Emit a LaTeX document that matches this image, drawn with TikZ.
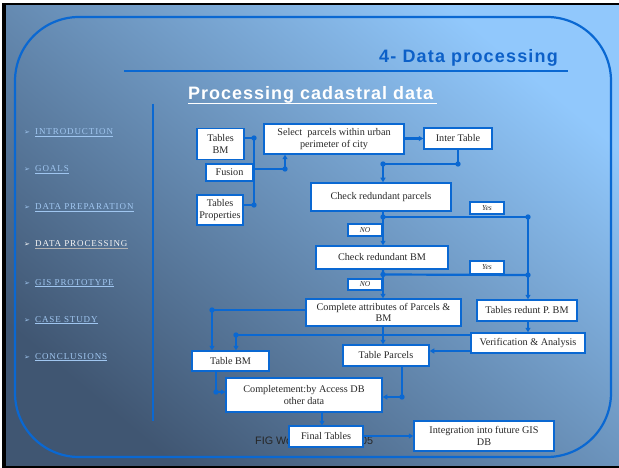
\documentclass[tikz,border=0pt]{standalone}
\usepackage{fontspec}
\setmainfont{Liberation Serif}
\newfontfamily\titlefont[LetterSpace=6.5]{Liberation Sans}
\newfontfamily\subfont[LetterSpace=5.5]{Liberation Sans}
\newfontfamily\menufont[LetterSpace=10]{Liberation Serif}
\newfontfamily\symfont{DejaVu Sans}
\newfontfamily\figfont{Liberation Sans}
\usetikzlibrary{arrows.meta,calc}
\definecolor{lb}{RGB}{10,104,210}
\definecolor{bgLight}{RGB}{145,200,252}
\definecolor{bgMid}{RGB}{106,150,200}
\definecolor{bgDark}{RGB}{64,86,114}
\definecolor{menublue}{RGB}{160,198,240}
\definecolor{titleblue}{RGB}{12,96,200}
\definecolor{boxtext}{RGB}{40,40,40}
\tikzset{
 box/.style={draw=lb, fill=white, line width=1.5pt, inner sep=0pt, align=center,
   font=\fontsize{10.2}{11.7}\selectfont, text=boxtext},
 lab/.style={draw=lb, fill=white, line width=1.1pt, inner sep=0pt,
   font=\itshape\fontsize{7.5}{8}\selectfont, text=boxtext},
 conn/.style={draw=lb, line width=2.2pt},
 arr/.style={conn, -{Triangle[length=4.5pt,width=5pt]}},
 menuitem/.style={anchor=base west, inner sep=0pt, text=menublue, font=\menufont\fontsize{9}{10}\selectfont},
 bullet/.style={anchor=base west, inner sep=0pt, text=menublue, font=\symfont\fontsize{7}{8}\selectfont},
}
\begin{document}
\begin{tikzpicture}[x=1pt,y=-1pt]
\useasboundingbox (0,0) rectangle (619,468);
\fill[white] (0,0) rectangle (619,468);
\fill[black] (2,3) rectangle (619,468);
\shade[top color=bgLight, middle color=bgMid, bottom color=bgDark, shading angle=-40] (6,6) rectangle (619,465);
% frame
\draw[lb, line width=2.2pt, rounded corners=64pt] (15,17) rectangle (611,457);
% titles
\node[anchor=base east, inner sep=0pt, text=titleblue, font=\titlefont\bfseries\fontsize{18}{20}\selectfont] (title) at (558,63) {4- Data processing};
\draw[lb, line width=1.6pt] (124,71) -- (568,71);
\node[anchor=base west, inner sep=0pt, text=white, font=\subfont\bfseries\fontsize{18}{20}\selectfont] (sub) at (188,100) {Processing cadastral data};
\draw[white, line width=1.4pt] (188,103.5) -- (437,103.5);
% sidebar
\draw[lb, line width=2pt] (153,104) -- (153,421);
\foreach \yy/\txt/\nm in {135/INTRODUCTION/m1, 172/GOALS/m2, 210/DATA PREPARATION/m3, 285/GIS PROTOTYPE/m5, 322/CASE STUDY/m6, 359/CONCLUSIONS/m7}{
  \node[bullet] (b\nm) at (24,\yy) {➢};
  \node[menuitem] (\nm) at (35,\yy) {\txt};
  \draw[menublue, line width=0.6pt] ([yshift=-1.6pt]\nm.base west) -- ([yshift=-1.6pt]\nm.base east);
}
\node[bullet, text=white] (bm4) at (24,247) {➢};
\node[menuitem, text=white!92!gray] (m4) at (35,247) {DATA PROCESSING};
\draw[gray!60, line width=0.8pt] ([yshift=-1.8pt]m4.base west) -- ([yshift=-1.8pt]m4.base east);
% footer text (partly hidden)
\node[anchor=base west, inner sep=0pt, text=black!85, font=\figfont\fontsize{10.8}{12}\selectfont] (fig) at (255,444) {FIG Working Week 2005};
% boxes
\node[box, minimum width=47, minimum height=31] (tbm) at (220.5,144) {Tables\\BM};
\node[box, minimum width=47, minimum height=17] (fus) at (229.5,172.5) {Fusion};
\node[box, minimum width=46, minimum height=30] (tpr) at (220,210) {Tables\\Properties};
\node[box, minimum width=140, minimum height=30] (sel) at (334,139) {Select\ \ parcels within urban\\perimeter of city};
\node[box, minimum width=68, minimum height=21] (inter) at (458,138.5) {Inter Table};
\node[box, minimum width=140, minimum height=28] (crp) at (381,197) {Check redundant parcels};
\node[lab, minimum width=34, minimum height=12] (yes1) at (487,208) {Yes};
\node[lab, minimum width=34, minimum height=12] (no1) at (365,230) {NO};
\node[box, minimum width=132, minimum height=23] (cbm) at (382,257.5) {Check redundant BM};
\node[lab, minimum width=34, minimum height=13] (yes2) at (487,267.5) {Yes};
\node[lab, minimum width=34, minimum height=11] (no2) at (365,284.5) {NO};
\node[box, minimum width=155, minimum height=27] (cap) at (383.5,312.5) {Complete attributes of Parcels \&\\BM};
\node[box, minimum width=100, minimum height=21] (trp) at (527,310.5) {Tables redunt P. BM};
\node[box, minimum width=114, minimum height=20] (ver) at (528,343) {Verification \& Analysis};
\node[box, minimum width=77, minimum height=20] (tbm2) at (230.5,361) {Table BM};
\node[box, minimum width=86, minimum height=21] (tpa) at (386,355.5) {Table Parcels};
\node[box, minimum width=156, minimum height=34] (cmp) at (304,395) {Completement:by Access DB\\other data};
\node[box, minimum width=74, minimum height=21] (fin) at (326,436.5) {Final Tables};
\node[box, minimum width=140, minimum height=30] (integ) at (484,436) {Integration into future GIS\\DB};
% junctions
\coordinate (j1) at (254,138);
\coordinate (j2) at (254,205);
\coordinate (jf) at (254,169);
\coordinate (j3) at (285,169);
\coordinate (j4) at (458,164);
\coordinate (j5) at (383,164);
\coordinate (j6) at (383,217);
\coordinate (j7) at (528,217);
\coordinate (j8) at (528,275);
\coordinate (j9) at (383,274.5);
\coordinate (j10) at (212,310);
\coordinate (j11) at (236,335);
\coordinate (l351) at (0,351);
\coordinate (j12) at (216,392);
\coordinate (j13) at (402,397);
\coordinate (x322) at (322,0);
% connectors
\draw[conn] (tbm.east |- j1) -- (j1) -- (j2) -- (tpr.east |- j2);
\draw[conn] (jf) -- (j3);
\draw[arr] (j3) -- (j3 |- sel.south);
\draw[arr] (sel.east |- inter.west) -- (inter.west);
\draw[conn] (inter.south) -- (j4) -- (j5);
\draw[arr] (j5) -- (j5 |- crp.north);
\draw[conn] (j6 |- crp.south) -- (j6) -- (j7) -- (j8);
\draw[arr] (j8) -- (j8 |- trp.north);
\draw[arr] (j6) -- (j6 |- cbm.north);
\draw[conn] (j9 |- cbm.south) -- (j9) -- (j8);
\draw[arr] (j9) -- (j9 |- cap.north);
\draw[conn] (cap.west |- j10) -- (j10);
\draw[arr] (j10) -- (j10 |- tbm2.north);
\draw[arr] (j9 |- cap.south) -- (j9 |- tpa.north);
\draw[conn] (ver.west |- j11) -- (j11);
\draw[arr] (j11) -- (j11 |- tbm2.north);
\draw[arr] (ver.west |- l351) -- (tpa.east |- l351);
\draw[arr] (j8 |- trp.south) -- (j8 |- ver.north);
\draw[conn] (j12 |- tbm2.south) -- (j12);
\draw[arr] (j12) -- (cmp.west |- j12);
\draw[conn] (j13 |- tpa.south) -- (j13);
\draw[arr] (j13) -- (cmp.east |- j13);
\draw[arr] (x322 |- cmp.south) -- (x322 |- fin.north);
\draw[arr] (fin.east |- integ.west) -- (integ.west);
\foreach \p in {j1,j2,j3,j4,j5,j6,j7,j8,j9,j10,j11,j12,j13}{\fill[lb] (\p) circle (2.7);}
\end{tikzpicture}
\end{document}
